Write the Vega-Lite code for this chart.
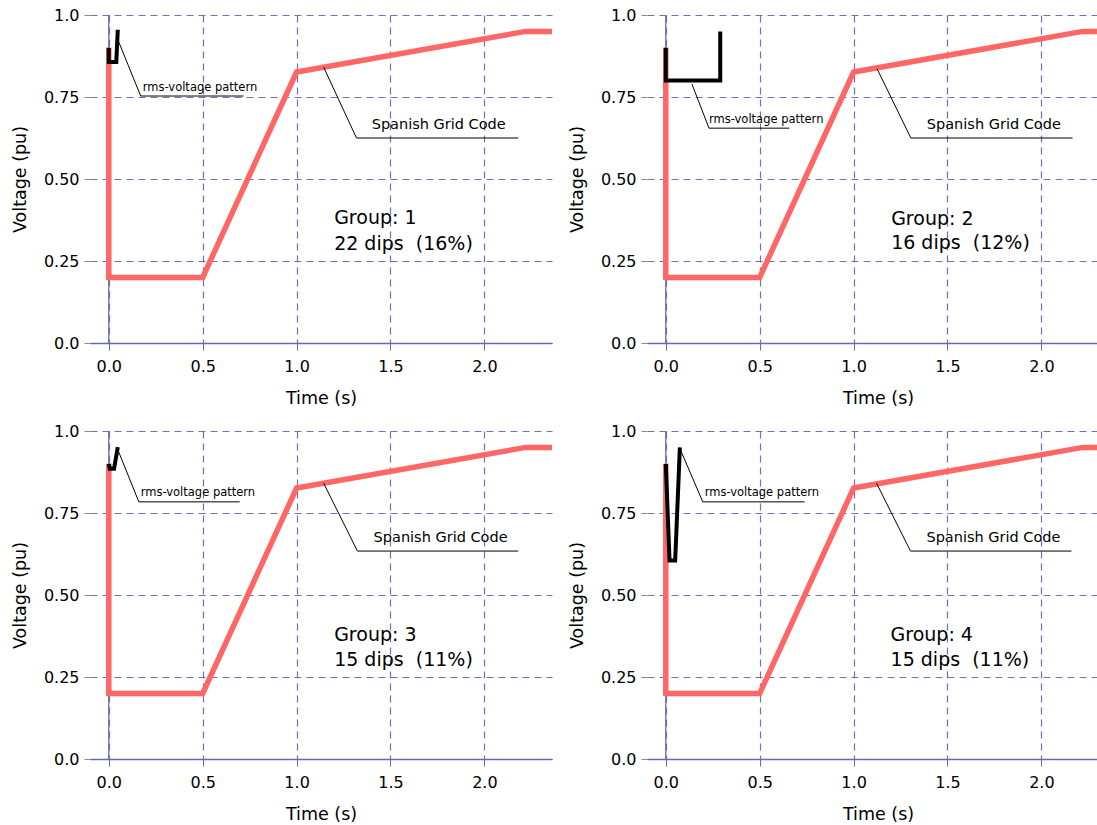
{
  "$schema": "https://vega.github.io/schema/vega-lite/v6.json",
  "background": "white",
  "padding": {"left": 11, "top": 7, "right": 0, "bottom": 0},
  "config": {
    "view": {"stroke": null},
    "font": "DejaVu Sans",
    "axisX": {"format": ".1f", "grid": true, "gridDash": [7, 5], "gridColor": "#7070b8", "gridWidth": 1.2, "domainColor": "#6a6aa8", "domainWidth": 1.3, "tickColor": "#6a6aa8", "tickSize": 7, "labelFontSize": 16, "labelColor": "#000", "labelPadding": 8, "labelFlush": false, "labelOverlap": false, "titleFontSize": 17.5, "titleFontWeight": "normal", "titleColor": "#000", "titlePadding": 15},
    "axisY": {"grid": true, "gridDash": [7, 5], "gridColor": "#7070b8", "gridWidth": 1.2, "domain": false, "tickColor": "#888888", "tickSize": 6, "labelFontSize": 16, "labelColor": "#000", "labelPadding": 5, "labelFlush": false, "labelOverlap": false, "titleFontSize": 17.5, "titleFontWeight": "normal", "titleColor": "#000", "titlePadding": 14}
  },
  "data": {"values": [
    {"panel": 1, "kind": "sgc", "i": 0, "t": 0, "v": 0.9},
    {"panel": 1, "kind": "sgc", "i": 1, "t": 0, "v": 0.2},
    {"panel": 1, "kind": "sgc", "i": 2, "t": 0.5, "v": 0.2},
    {"panel": 1, "kind": "sgc", "i": 3, "t": 1.0, "v": 0.826},
    {"panel": 1, "kind": "sgc", "i": 4, "t": 2.22, "v": 0.95},
    {"panel": 1, "kind": "sgc", "i": 5, "t": 2.36, "v": 0.95},
    {"panel": 2, "kind": "sgc", "i": 0, "t": 0, "v": 0.9},
    {"panel": 2, "kind": "sgc", "i": 1, "t": 0, "v": 0.2},
    {"panel": 2, "kind": "sgc", "i": 2, "t": 0.5, "v": 0.2},
    {"panel": 2, "kind": "sgc", "i": 3, "t": 1.0, "v": 0.826},
    {"panel": 2, "kind": "sgc", "i": 4, "t": 2.22, "v": 0.95},
    {"panel": 2, "kind": "sgc", "i": 5, "t": 2.36, "v": 0.95},
    {"panel": 3, "kind": "sgc", "i": 0, "t": 0, "v": 0.9},
    {"panel": 3, "kind": "sgc", "i": 1, "t": 0, "v": 0.2},
    {"panel": 3, "kind": "sgc", "i": 2, "t": 0.5, "v": 0.2},
    {"panel": 3, "kind": "sgc", "i": 3, "t": 1.0, "v": 0.826},
    {"panel": 3, "kind": "sgc", "i": 4, "t": 2.22, "v": 0.95},
    {"panel": 3, "kind": "sgc", "i": 5, "t": 2.36, "v": 0.95},
    {"panel": 4, "kind": "sgc", "i": 0, "t": 0, "v": 0.9},
    {"panel": 4, "kind": "sgc", "i": 1, "t": 0, "v": 0.2},
    {"panel": 4, "kind": "sgc", "i": 2, "t": 0.5, "v": 0.2},
    {"panel": 4, "kind": "sgc", "i": 3, "t": 1.0, "v": 0.826},
    {"panel": 4, "kind": "sgc", "i": 4, "t": 2.22, "v": 0.95},
    {"panel": 4, "kind": "sgc", "i": 5, "t": 2.36, "v": 0.95},

    {"panel": 1, "kind": "rms", "i": 0, "t": 0, "v": 0.9},
    {"panel": 1, "kind": "rms", "i": 1, "t": 0, "v": 0.857},
    {"panel": 1, "kind": "rms", "i": 2, "t": 0.04, "v": 0.857},
    {"panel": 1, "kind": "rms", "i": 3, "t": 0.048, "v": 0.955},
    {"panel": 2, "kind": "rms", "i": 0, "t": 0, "v": 0.9},
    {"panel": 2, "kind": "rms", "i": 1, "t": 0, "v": 0.8},
    {"panel": 2, "kind": "rms", "i": 2, "t": 0.29, "v": 0.8},
    {"panel": 2, "kind": "rms", "i": 3, "t": 0.29, "v": 0.95},
    {"panel": 3, "kind": "rms", "i": 0, "t": 0, "v": 0.9},
    {"panel": 3, "kind": "rms", "i": 1, "t": 0.005, "v": 0.885},
    {"panel": 3, "kind": "rms", "i": 2, "t": 0.028, "v": 0.885},
    {"panel": 3, "kind": "rms", "i": 3, "t": 0.048, "v": 0.951},
    {"panel": 4, "kind": "rms", "i": 0, "t": 0, "v": 0.9},
    {"panel": 4, "kind": "rms", "i": 1, "t": 0.02, "v": 0.605},
    {"panel": 4, "kind": "rms", "i": 2, "t": 0.05, "v": 0.605},
    {"panel": 4, "kind": "rms", "i": 3, "t": 0.075, "v": 0.95},

    {"panel": 1, "kind": "lead", "id": "r", "i": 0, "t": 0.053, "v": 0.918},
    {"panel": 1, "kind": "lead", "id": "r", "i": 1, "t": 0.17, "v": 0.753},
    {"panel": 1, "kind": "lead", "id": "r", "i": 2, "t": 0.718, "v": 0.753},
    {"panel": 2, "kind": "lead", "id": "r", "i": 0, "t": 0.139, "v": 0.79},
    {"panel": 2, "kind": "lead", "id": "r", "i": 1, "t": 0.23, "v": 0.655},
    {"panel": 2, "kind": "lead", "id": "r", "i": 2, "t": 0.658, "v": 0.655},
    {"panel": 3, "kind": "lead", "id": "r", "i": 0, "t": 0.053, "v": 0.936},
    {"panel": 3, "kind": "lead", "id": "r", "i": 1, "t": 0.16, "v": 0.784},
    {"panel": 3, "kind": "lead", "id": "r", "i": 2, "t": 0.697, "v": 0.784},
    {"panel": 4, "kind": "lead", "id": "r", "i": 0, "t": 0.074, "v": 0.948},
    {"panel": 4, "kind": "lead", "id": "r", "i": 1, "t": 0.197, "v": 0.784},
    {"panel": 4, "kind": "lead", "id": "r", "i": 2, "t": 0.739, "v": 0.784},
    {"panel": 1, "kind": "lead", "id": "s", "i": 0, "t": 1.144, "v": 0.841},
    {"panel": 1, "kind": "lead", "id": "s", "i": 1, "t": 1.319, "v": 0.625},
    {"panel": 1, "kind": "lead", "id": "s", "i": 2, "t": 2.18, "v": 0.625},
    {"panel": 2, "kind": "lead", "id": "s", "i": 0, "t": 1.125, "v": 0.836},
    {"panel": 2, "kind": "lead", "id": "s", "i": 1, "t": 1.305, "v": 0.625},
    {"panel": 2, "kind": "lead", "id": "s", "i": 2, "t": 2.166, "v": 0.625},
    {"panel": 3, "kind": "lead", "id": "s", "i": 0, "t": 1.144, "v": 0.841},
    {"panel": 3, "kind": "lead", "id": "s", "i": 1, "t": 1.324, "v": 0.634},
    {"panel": 3, "kind": "lead", "id": "s", "i": 2, "t": 2.18, "v": 0.634},
    {"panel": 4, "kind": "lead", "id": "s", "i": 0, "t": 1.122, "v": 0.841},
    {"panel": 4, "kind": "lead", "id": "s", "i": 1, "t": 1.303, "v": 0.634},
    {"panel": 4, "kind": "lead", "id": "s", "i": 2, "t": 2.16, "v": 0.634},

    {"panel": 1, "kind": "rmsText", "t": 0.181, "v": 0.777, "label": "rms-voltage pattern"},
    {"panel": 2, "kind": "rmsText", "t": 0.23, "v": 0.68, "label": "rms-voltage pattern"},
    {"panel": 3, "kind": "rmsText", "t": 0.17, "v": 0.811, "label": "rms-voltage pattern"},
    {"panel": 4, "kind": "rmsText", "t": 0.207, "v": 0.811, "label": "rms-voltage pattern"},
    {"panel": 1, "kind": "sgcText", "t": 1.40, "v": 0.665, "label": "Spanish Grid Code"},
    {"panel": 2, "kind": "sgcText", "t": 1.39, "v": 0.665, "label": "Spanish Grid Code"},
    {"panel": 3, "kind": "sgcText", "t": 1.41, "v": 0.674, "label": "Spanish Grid Code"},
    {"panel": 4, "kind": "sgcText", "t": 1.388, "v": 0.674, "label": "Spanish Grid Code"},
    {"panel": 1, "kind": "groupText", "t": 1.2, "v": 0.38, "label": "Group: 1"},
    {"panel": 1, "kind": "groupText", "t": 1.2, "v": 0.303, "label": "22 dips\u00a0 (16%)"},
    {"panel": 2, "kind": "groupText", "t": 1.2, "v": 0.378, "label": "Group: 2"},
    {"panel": 2, "kind": "groupText", "t": 1.2, "v": 0.306, "label": "16 dips\u00a0 (12%)"},
    {"panel": 3, "kind": "groupText", "t": 1.2, "v": 0.378, "label": "Group: 3"},
    {"panel": 3, "kind": "groupText", "t": 1.2, "v": 0.303, "label": "15 dips\u00a0 (11%)"},
    {"panel": 4, "kind": "groupText", "t": 1.197, "v": 0.378, "label": "Group: 4"},
    {"panel": 4, "kind": "groupText", "t": 1.197, "v": 0.303, "label": "15 dips\u00a0 (11%)"}
  ]},
  "columns": 2,
  "spacing": {"row": 16, "column": 5},
  "concat": [
    {
      "width": 462, "height": 328,
      "transform": [{"filter": "datum.panel == 1"}],
      "encoding": {
        "x": {"field": "t", "type": "quantitative", "title": "Time (s)", "scale": {"domain": [-0.1, 2.36], "nice": false, "zero": false}, "axis": {"values": [0, 0.5, 1, 1.5, 2]}},
        "y": {"field": "v", "type": "quantitative", "title": "Voltage (pu)", "scale": {"domain": [0, 1], "nice": false}, "axis": {"values": [0, 0.25, 0.5, 0.75, 1], "labelExpr": "datum.value == 0 ? '0.0' : datum.value == 1 ? '1.0' : format(datum.value, '.2f')"}}
      },
      "layer": [
        {"transform": [{"filter": "datum.kind == 'sgc' && datum.i == 0"}], "mark": {"type": "rule", "color": "#6a6aa8", "strokeWidth": 1.3}, "encoding": {"x": {"datum": 0, "type": "quantitative"}, "y": {"datum": 0, "type": "quantitative"}, "y2": {"datum": 1}}},
        {"transform": [{"filter": "datum.kind == 'sgc'"}], "mark": {"type": "line", "color": "#ff6666", "strokeWidth": 5.5, "strokeJoin": "miter", "strokeCap": "butt"}, "encoding": {"order": {"field": "i", "type": "quantitative"}}},
        {"transform": [{"filter": "datum.kind == 'rms'"}], "mark": {"type": "line", "color": "#000000", "strokeWidth": 4, "strokeJoin": "miter", "strokeCap": "butt"}, "encoding": {"order": {"field": "i", "type": "quantitative"}}},
        {"transform": [{"filter": "datum.kind == 'lead'"}], "mark": {"type": "line", "color": "#000000", "strokeWidth": 1}, "encoding": {"detail": {"field": "id"}, "order": {"field": "i", "type": "quantitative"}}},
        {"transform": [{"filter": "datum.kind == 'rmsText'"}], "mark": {"type": "text", "align": "left", "baseline": "middle", "fontSize": 11.5, "color": "#000"}, "encoding": {"text": {"field": "label"}}},
        {"transform": [{"filter": "datum.kind == 'sgcText'"}], "mark": {"type": "text", "align": "left", "baseline": "middle", "fontSize": 14.5, "color": "#000"}, "encoding": {"text": {"field": "label"}}},
        {"transform": [{"filter": "datum.kind == 'groupText'"}], "mark": {"type": "text", "align": "left", "baseline": "middle", "fontSize": 19, "color": "#000"}, "encoding": {"text": {"field": "label"}}}
      ]
    },
    {
      "width": 462, "height": 328,
      "transform": [{"filter": "datum.panel == 2"}],
      "encoding": {
        "x": {"field": "t", "type": "quantitative", "title": "Time (s)", "scale": {"domain": [-0.1, 2.36], "nice": false, "zero": false}, "axis": {"values": [0, 0.5, 1, 1.5, 2]}},
        "y": {"field": "v", "type": "quantitative", "title": "Voltage (pu)", "scale": {"domain": [0, 1], "nice": false}, "axis": {"values": [0, 0.25, 0.5, 0.75, 1], "labelExpr": "datum.value == 0 ? '0.0' : datum.value == 1 ? '1.0' : format(datum.value, '.2f')"}}
      },
      "layer": [
        {"transform": [{"filter": "datum.kind == 'sgc' && datum.i == 0"}], "mark": {"type": "rule", "color": "#6a6aa8", "strokeWidth": 1.3}, "encoding": {"x": {"datum": 0, "type": "quantitative"}, "y": {"datum": 0, "type": "quantitative"}, "y2": {"datum": 1}}},
        {"transform": [{"filter": "datum.kind == 'sgc'"}], "mark": {"type": "line", "color": "#ff6666", "strokeWidth": 5.5, "strokeJoin": "miter", "strokeCap": "butt"}, "encoding": {"order": {"field": "i", "type": "quantitative"}}},
        {"transform": [{"filter": "datum.kind == 'rms'"}], "mark": {"type": "line", "color": "#000000", "strokeWidth": 4, "strokeJoin": "miter", "strokeCap": "butt"}, "encoding": {"order": {"field": "i", "type": "quantitative"}}},
        {"transform": [{"filter": "datum.kind == 'lead'"}], "mark": {"type": "line", "color": "#000000", "strokeWidth": 1}, "encoding": {"detail": {"field": "id"}, "order": {"field": "i", "type": "quantitative"}}},
        {"transform": [{"filter": "datum.kind == 'rmsText'"}], "mark": {"type": "text", "align": "left", "baseline": "middle", "fontSize": 11.5, "color": "#000"}, "encoding": {"text": {"field": "label"}}},
        {"transform": [{"filter": "datum.kind == 'sgcText'"}], "mark": {"type": "text", "align": "left", "baseline": "middle", "fontSize": 14.5, "color": "#000"}, "encoding": {"text": {"field": "label"}}},
        {"transform": [{"filter": "datum.kind == 'groupText'"}], "mark": {"type": "text", "align": "left", "baseline": "middle", "fontSize": 19, "color": "#000"}, "encoding": {"text": {"field": "label"}}}
      ]
    },
    {
      "width": 462, "height": 328,
      "transform": [{"filter": "datum.panel == 3"}],
      "encoding": {
        "x": {"field": "t", "type": "quantitative", "title": "Time (s)", "scale": {"domain": [-0.1, 2.36], "nice": false, "zero": false}, "axis": {"values": [0, 0.5, 1, 1.5, 2]}},
        "y": {"field": "v", "type": "quantitative", "title": "Voltage (pu)", "scale": {"domain": [0, 1], "nice": false}, "axis": {"values": [0, 0.25, 0.5, 0.75, 1], "labelExpr": "datum.value == 0 ? '0.0' : datum.value == 1 ? '1.0' : format(datum.value, '.2f')"}}
      },
      "layer": [
        {"transform": [{"filter": "datum.kind == 'sgc' && datum.i == 0"}], "mark": {"type": "rule", "color": "#6a6aa8", "strokeWidth": 1.3}, "encoding": {"x": {"datum": 0, "type": "quantitative"}, "y": {"datum": 0, "type": "quantitative"}, "y2": {"datum": 1}}},
        {"transform": [{"filter": "datum.kind == 'sgc'"}], "mark": {"type": "line", "color": "#ff6666", "strokeWidth": 5.5, "strokeJoin": "miter", "strokeCap": "butt"}, "encoding": {"order": {"field": "i", "type": "quantitative"}}},
        {"transform": [{"filter": "datum.kind == 'rms'"}], "mark": {"type": "line", "color": "#000000", "strokeWidth": 4, "strokeJoin": "miter", "strokeCap": "butt"}, "encoding": {"order": {"field": "i", "type": "quantitative"}}},
        {"transform": [{"filter": "datum.kind == 'lead'"}], "mark": {"type": "line", "color": "#000000", "strokeWidth": 1}, "encoding": {"detail": {"field": "id"}, "order": {"field": "i", "type": "quantitative"}}},
        {"transform": [{"filter": "datum.kind == 'rmsText'"}], "mark": {"type": "text", "align": "left", "baseline": "middle", "fontSize": 11.5, "color": "#000"}, "encoding": {"text": {"field": "label"}}},
        {"transform": [{"filter": "datum.kind == 'sgcText'"}], "mark": {"type": "text", "align": "left", "baseline": "middle", "fontSize": 14.5, "color": "#000"}, "encoding": {"text": {"field": "label"}}},
        {"transform": [{"filter": "datum.kind == 'groupText'"}], "mark": {"type": "text", "align": "left", "baseline": "middle", "fontSize": 19, "color": "#000"}, "encoding": {"text": {"field": "label"}}}
      ]
    },
    {
      "width": 462, "height": 328,
      "transform": [{"filter": "datum.panel == 4"}],
      "encoding": {
        "x": {"field": "t", "type": "quantitative", "title": "Time (s)", "scale": {"domain": [-0.1, 2.36], "nice": false, "zero": false}, "axis": {"values": [0, 0.5, 1, 1.5, 2]}},
        "y": {"field": "v", "type": "quantitative", "title": "Voltage (pu)", "scale": {"domain": [0, 1], "nice": false}, "axis": {"values": [0, 0.25, 0.5, 0.75, 1], "labelExpr": "datum.value == 0 ? '0.0' : datum.value == 1 ? '1.0' : format(datum.value, '.2f')"}}
      },
      "layer": [
        {"transform": [{"filter": "datum.kind == 'sgc' && datum.i == 0"}], "mark": {"type": "rule", "color": "#6a6aa8", "strokeWidth": 1.3}, "encoding": {"x": {"datum": 0, "type": "quantitative"}, "y": {"datum": 0, "type": "quantitative"}, "y2": {"datum": 1}}},
        {"transform": [{"filter": "datum.kind == 'sgc'"}], "mark": {"type": "line", "color": "#ff6666", "strokeWidth": 5.5, "strokeJoin": "miter", "strokeCap": "butt"}, "encoding": {"order": {"field": "i", "type": "quantitative"}}},
        {"transform": [{"filter": "datum.kind == 'rms'"}], "mark": {"type": "line", "color": "#000000", "strokeWidth": 4, "strokeJoin": "miter", "strokeCap": "butt"}, "encoding": {"order": {"field": "i", "type": "quantitative"}}},
        {"transform": [{"filter": "datum.kind == 'lead'"}], "mark": {"type": "line", "color": "#000000", "strokeWidth": 1}, "encoding": {"detail": {"field": "id"}, "order": {"field": "i", "type": "quantitative"}}},
        {"transform": [{"filter": "datum.kind == 'rmsText'"}], "mark": {"type": "text", "align": "left", "baseline": "middle", "fontSize": 11.5, "color": "#000"}, "encoding": {"text": {"field": "label"}}},
        {"transform": [{"filter": "datum.kind == 'sgcText'"}], "mark": {"type": "text", "align": "left", "baseline": "middle", "fontSize": 14.5, "color": "#000"}, "encoding": {"text": {"field": "label"}}},
        {"transform": [{"filter": "datum.kind == 'groupText'"}], "mark": {"type": "text", "align": "left", "baseline": "middle", "fontSize": 19, "color": "#000"}, "encoding": {"text": {"field": "label"}}}
      ]
    }
  ]
}
